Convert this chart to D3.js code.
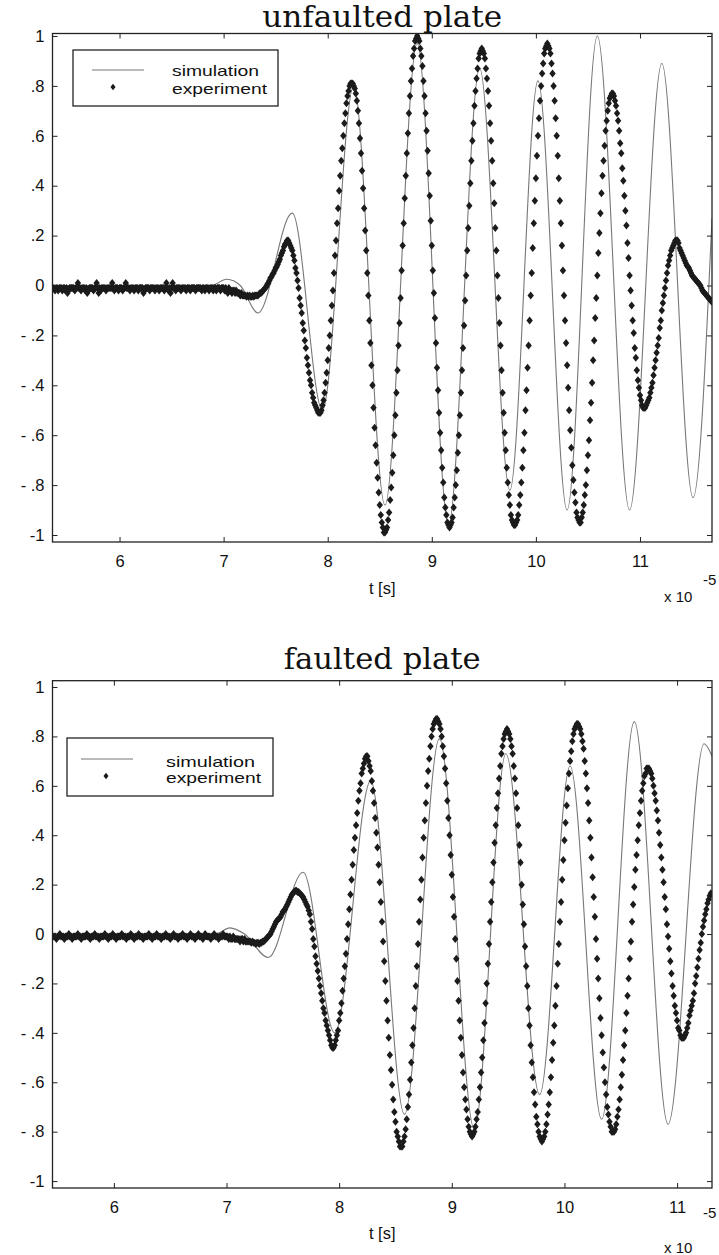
<!DOCTYPE html>
<html>
<head>
<meta charset="utf-8">
<script src="https://cdn.jsdelivr.net/npm/d3@7"></script>
<style>
  body { margin: 0; background: #fff; }
  svg text { fill: #111; }
</style>
</head>
<body>
<div id="chart"></div>
<script>
// ---- data ----
const titles = ["unfaulted plate", "faulted plate"]
const seriesNames = ["simulation", "experiment"]
const xTicks = [6, 7, 8, 9, 10, 11]
const yTicks = [1, .8, .6, .4, .2, 0, -.2, -.4, -.6, -.8, -1]
const yTickLabels = ["1", ".8", ".6", ".4", ".2", "0", "- .2", "- .4", "- .6", "- .8", "-1"]
const xLabel = "t [s]"

// simulation: turning points of the thin grey curve (t in 1e-5 s)
const topSimT = [5.356, 6.88, 7.03, 7.16, 7.33, 7.66, 7.95, 8.25, 8.55, 8.86, 9.16, 9.46, 9.75, 10.02, 10.30, 10.59, 10.90, 11.21, 11.51, 11.692]
const topSimY = [0, 0, .025, 0, -.11, .29, -.50, .80, -.88, .97, -.96, .87, -.82, .82, -.90, 1.0, -.90, .89, -.85, .27]

const botSimT = [5.455, 6.90, 7.03, 7.16, 7.37, 7.68, 7.96, 8.28, 8.58, 8.89, 9.20, 9.48, 9.78, 10.05, 10.33, 10.62, 10.92, 11.24, 11.31]
const botSimY = [0, 0, .025, 0, -.095, .25, -.40, .62, -.73, .79, -.79, .73, -.65, .68, -.75, .86, -.77, .77, .72]

// experiment: sampled every 0.01e-5 s
const topExpStart = 5.36, topExpStep = 0.01
const topExpY = [
  // 5.36 - 6.99
  -.01,-.01,-.02,-.01,-.01,-.02,-.01,-.01,-.01,-.02,
  -.01,-.01,-.02,-.01,-.03,-.02,-.01,-.01,-.01,-.01,
  -.01,-.02,-.01,-.01,.01,-.01,-.01,-.02,-.01,-.01,
  -.01,-.02,-.01,-.03,-.02,-.01,-.01,-.01,-.01,-.02,
  -.01,-.01,.01,-.01,-.03,-.01,-.02,-.01,-.01,-.01,
  -.01,-.02,-.01,-.01,-.01,-.01,-.01,.01,-.01,-.02,
  -.01,-.01,-.01,-.02,-.01,-.01,-.01,-.02,-.01,-.01,
  .01,-.01,-.01,-.01,-.02,-.01,-.01,-.01,-.02,-.01,
  -.01,-.01,-.02,-.01,-.01,-.01,-.01,-.03,-.02,-.01,
  -.01,-.01,-.01,-.02,-.01,-.01,-.01,-.01,-.02,-.01,
  -.01,-.01,-.02,-.01,-.01,-.01,-.01,-.02,-.01,.01,
  -.01,-.02,-.01,-.03,-.01,.01,-.01,-.01,-.02,-.01,
  -.01,-.01,-.01,-.02,-.01,-.01,-.01,-.01,-.02,-.01,
  -.01,-.01,-.02,-.01,-.01,-.01,-.01,-.02,-.01,-.01,
  -.01,-.01,-.01,-.02,-.01,-.01,-.02,-.01,-.01,-.01,
  -.02,-.01,-.01,-.01,-.02,-.01,-.01,-.02,-.01,-.01,
  -.01,-.02,-.01,-.01,
  // 7.00 - 7.30
  -.01,-.02,-.01,-.02,-.03,-.01,-.02,-.02,-.03,-.02,
  -.02,-.03,-.02,-.03,-.03,-.03,-.04,-.03,-.04,-.04,
  -.04,-.04,-.045,-.04,-.045,-.04,-.045,-.045,-.04,-.045,
  -.04,
  // 7.31 - 7.61
  -.04,-.04,-.04,-.035,-.03,-.03,-.025,-.02,-.015,-.01,
  -.005,.005,.01,.02,.03,.035,.045,.05,.06,.07,
  .075,.085,.095,.105,.12,.13,.14,.155,.165,.17,.18,
  // 7.62 - 7.92
  .18,.17,.16,.15,.14,.12,.10,.07,.05,.02,
  -.01,-.05,-.08,-.11,-.15,-.18,-.22,-.25,-.29,-.32,
  -.35,-.38,-.40,-.43,-.45,-.47,-.48,-.49,-.50,-.51,-.51,
  // 7.93 - 8.23
  -.51,-.50,-.48,-.46,-.43,-.39,-.35,-.30,-.25,-.20,
  -.14,-.08,-.02,.05,.12,.18,.25,.31,.38,.44,
  .50,.55,.60,.65,.69,.73,.76,.78,.80,.81,.81,
  // 8.24 - 8.55
  .81,.80,.79,.77,.74,.70,.65,.59,.53,.46,.39,
  .31,.22,.14,.05,-.04,-.14,-.23,-.32,-.40,-.49,
  -.57,-.64,-.71,-.77,-.83,-.88,-.92,-.95,-.97,-.99,-.99,
  // 8.56 - 8.86
  -.98,-.97,-.94,-.91,-.86,-.81,-.75,-.68,-.60,-.52,
  -.43,-.34,-.24,-.15,-.05,.06,.16,.25,.35,.44,
  .53,.61,.69,.76,.82,.87,.92,.95,.98,.99,1.0,
  // 8.87 - 9.17
  .99,.98,.95,.92,.88,.82,.76,.69,.62,.54,
  .45,.36,.26,.16,.06,-.03,-.13,-.23,-.33,-.42,
  -.51,-.59,-.66,-.73,-.79,-.85,-.89,-.92,-.95,-.96,-.97,
  // 9.18 - 9.48
  -.96,-.95,-.93,-.89,-.85,-.80,-.74,-.67,-.60,-.52,
  -.43,-.34,-.25,-.16,-.06,.04,.14,.23,.32,.41,
  .50,.58,.65,.72,.78,.83,.87,.91,.93,.94,.95,
  // 9.49 - 9.79
  .94,.93,.91,.87,.83,.78,.72,.65,.58,.50,
  .41,.33,.23,.14,.04,-.05,-.15,-.24,-.34,-.43,
  -.51,-.59,-.66,-.73,-.79,-.84,-.88,-.92,-.94,-.95,-.96,
  // 9.80 - 10.11
  -.96,-.95,-.94,-.92,-.88,-.84,-.79,-.73,-.66,-.59,-.50,
  -.42,-.33,-.24,-.14,-.04,.05,.15,.25,.34,.43,
  .52,.60,.67,.74,.80,.85,.89,.93,.95,.96,.97,
  // 10.12 - 10.42
  .96,.95,.93,.89,.85,.80,.74,.67,.60,.52,
  .43,.34,.25,.16,.06,-.04,-.14,-.23,-.32,-.41,
  -.50,-.58,-.65,-.72,-.78,-.83,-.87,-.91,-.93,-.94,-.95,
  // 10.43 - 10.73
  -.95,-.93,-.91,-.88,-.84,-.80,-.74,-.68,-.62,-.54,
  -.47,-.39,-.30,-.22,-.13,-.05,.04,.13,.21,.29,
  .37,.44,.50,.56,.62,.66,.70,.73,.75,.76,.77,
  // 10.74 - 11.04
  .77,.76,.74,.72,.69,.66,.62,.57,.53,.47,
  .42,.36,.30,.24,.17,.11,.04,-.02,-.08,-.14,
  -.19,-.25,-.29,-.34,-.38,-.41,-.44,-.46,-.48,-.49,-.49,
  // 11.05 - 11.35
  -.49,-.48,-.47,-.46,-.45,-.43,-.41,-.39,-.36,-.33,
  -.30,-.27,-.24,-.21,-.17,-.14,-.10,-.07,-.04,-.01,
  .02,.05,.08,.10,.12,.14,.15,.16,.17,.18,.18,
  // 11.36 - 11.69
  .18,.17,.15,.14,.13,.12,.11,.10,.09,.08,
  .075,.07,.06,.05,.04,.035,.03,.025,.02,.015,
  .01,.005,0,-.01,-.02,-.025,-.03,-.035,-.04,-.045,
  -.05,-.055,-.06,-.065
]

const botExpStart = 5.46, botExpStep = 0.01
const botExpY = [
  // 5.46 - 6.99
  -.01,-.01,-.01,-.02,-.01,-.01,0,-.01,-.01,-.01,
  -.02,-.01,-.01,-.01,0,-.01,-.01,-.02,-.01,-.01,
  -.01,-.01,0,-.01,-.01,-.02,-.01,-.01,-.01,-.01,
  0,-.01,-.01,-.02,-.01,-.01,-.01,0,-.01,-.01,
  -.01,-.02,-.01,-.01,-.01,-.01,0,-.01,-.01,-.02,
  -.01,-.01,-.01,0,-.01,-.01,-.02,-.01,-.01,-.01,
  -.01,0,-.01,-.01,-.01,-.02,-.01,-.01,-.01,0,
  -.01,-.01,-.02,-.01,-.01,-.01,0,-.01,-.01,-.01,
  -.02,-.01,-.01,-.01,-.01,0,-.01,-.01,-.02,-.01,
  -.01,-.01,0,-.01,-.01,-.01,-.02,-.01,-.01,-.01,
  0,-.01,-.01,-.01,-.02,-.01,-.01,0,-.01,-.01,
  -.01,-.02,-.01,-.01,-.01,0,-.01,-.01,-.01,-.02,
  -.01,-.01,0,-.01,-.01,-.01,-.02,-.01,-.01,0,
  -.01,-.01,-.01,-.02,-.01,0,-.01,-.01,-.01,-.01,
  -.02,-.01,-.01,0,-.01,-.01,-.01,-.02,-.01,-.01,
  -.01,0,-.01,-.01,
  // 7.00 - 7.30
  -.01,-.01,-.02,-.01,-.02,-.02,-.01,-.02,-.02,-.02,
  -.02,-.02,-.03,-.02,-.02,-.03,-.02,-.03,-.03,-.03,
  -.03,-.03,-.035,-.03,-.035,-.035,-.04,-.035,-.035,-.04,
  -.035,
  // 7.31 - 7.61
  -.035,-.03,-.03,-.025,-.02,-.015,-.01,-.005,0,.01,
  .02,.03,.04,.05,.055,.06,.065,.07,.08,.09,
  .095,.10,.11,.12,.13,.14,.15,.16,.165,.17,.175,
  // 7.62 - 7.94
  .175,.17,.17,.165,.16,.155,.15,.14,.13,.12,
  .11,.095,.08,.05,.02,-.02,-.05,-.09,-.12,-.15,
  -.18,-.21,-.24,-.27,-.30,-.32,-.35,-.37,-.39,-.41,
  -.43,-.45,-.46,
  // 7.95 - 8.25
  -.46,-.45,-.43,-.41,-.39,-.35,-.32,-.28,-.23,-.18,
  -.13,-.08,-.02,.04,.10,.16,.22,.28,.34,.39,
  .44,.49,.54,.58,.61,.65,.67,.69,.71,.72,.72,
  // 8.26 - 8.55
  .70,.68,.66,.62,.58,.53,.47,.41,.35,.28,
  .21,.13,.05,-.03,-.11,-.19,-.27,-.35,-.42,-.49,
  -.55,-.61,-.67,-.72,-.76,-.80,-.82,-.84,-.86,-.86,
  // 8.56 - 8.86
  -.86,-.84,-.82,-.79,-.75,-.70,-.65,-.59,-.52,-.45,
  -.38,-.30,-.21,-.13,-.04,.05,.14,.22,.31,.39,
  .46,.53,.60,.66,.71,.76,.80,.83,.85,.86,.87,
  // 8.87 - 9.18
  .87,.86,.85,.83,.80,.76,.72,.67,.61,.54,.47,
  .40,.32,.24,.15,.07,-.02,-.10,-.19,-.27,-.35,
  -.42,-.49,-.56,-.62,-.67,-.71,-.75,-.78,-.80,-.81,-.82,
  // 9.19 - 9.49
  -.81,-.80,-.78,-.75,-.72,-.67,-.62,-.56,-.50,-.43,
  -.36,-.28,-.20,-.12,-.04,.05,.13,.21,.29,.37,
  .44,.51,.57,.63,.68,.73,.76,.79,.81,.82,.83,
  // 9.50 - 9.80
  .82,.81,.79,.76,.73,.68,.63,.57,.51,.44,
  .36,.29,.20,.12,.04,-.05,-.13,-.21,-.30,-.37,
  -.45,-.52,-.58,-.64,-.69,-.74,-.77,-.80,-.82,-.83,-.84,
  // 9.81 - 10.11
  -.83,-.82,-.80,-.77,-.73,-.69,-.64,-.58,-.51,-.44,
  -.37,-.29,-.21,-.12,-.04,.05,.13,.22,.30,.38,
  .45,.52,.59,.65,.70,.74,.78,.81,.83,.84,.85,
  // 10.12 - 10.43
  .85,.84,.83,.81,.78,.75,.70,.65,.59,.53,.46,
  .39,.31,.23,.15,.07,-.02,-.10,-.18,-.26,-.34,
  -.41,-.48,-.54,-.60,-.65,-.70,-.73,-.76,-.78,-.80,-.80,
  // 10.44 - 10.74
  -.80,-.79,-.77,-.74,-.71,-.67,-.62,-.57,-.51,-.45,
  -.39,-.32,-.25,-.18,-.10,-.03,.05,.12,.19,.26,
  .32,.38,.44,.49,.54,.58,.61,.64,.65,.67,.67,
  // 10.75 - 11.05
  .67,.66,.65,.63,.60,.57,.54,.50,.46,.41,
  .36,.31,.26,.21,.15,.10,.04,-.01,-.06,-.11,
  -.16,-.21,-.25,-.29,-.32,-.35,-.38,-.39,-.41,-.42,-.42,
  // 11.06 - 11.30
  -.42,-.41,-.40,-.38,-.36,-.33,-.31,-.29,-.27,-.24,
  -.20,-.17,-.135,-.10,-.065,-.035,0,.03,.055,.08,
  .10,.125,.14,.155,.165
]

// ---- layout ----
const W = 719, H = 1255
const simColor = "#777",
      expColor = "#1b1b1b",
      frameColor = "#222"
const sansFont = "'Liberation Sans', Arial, sans-serif",
      serifFont = "'DejaVu Serif', 'Liberation Serif', serif"

const panels = [
  {
    title: titles[0], titleY: 27, titleLen: 240,
    simT: topSimT, simY: topSimY, expStart: topExpStart, expStep: topExpStep, expY: topExpY,
    xDomain: [5.356, 11.692], yDomain: [-1.028, 1.01],
    left: 52.5, right: 712, top: 33.5, bottom: 542,
    xLabelY: 594, expoX: 664, expoY: 602, supY: 585,
    legend: {x: 73, y: 50, w: 205, h: 56, lineY: 70, markY: 87, textY: [76, 94], textX: 172, textLen: [87, 95], lineX: [92, 144], markX: 113}
  },
  {
    title: titles[1], titleY: 669, titleLen: 197,
    simT: botSimT, simY: botSimY, expStart: botExpStart, expStep: botExpStep, expY: botExpY,
    xDomain: [5.455, 11.31], yDomain: [-1.028, 1.0255],
    left: 52.5, right: 712, top: 680.7, bottom: 1188,
    xLabelY: 1239, expoX: 664, expoY: 1253, supY: 1218,
    legend: {x: 67, y: 738, w: 206, h: 58, lineY: 759, markY: 776, textY: [767, 783], textX: 166, textLen: [89, 95], lineX: [81, 133], markX: 106}
  }
]

const svg = d3.select("#chart").append("svg")
  .attr("width", W)
  .attr("height", H)
  .style("display", "block")

const markerPath = "M0,-4L3.2,0L0,4L-3.2,0Z"

panels.forEach((p, pi) => {
  const x = d3.scaleLinear().domain(p.xDomain).range([p.left, p.right]),
        y = d3.scaleLinear().domain(p.yDomain).range([p.bottom, p.top])

  const g = svg.append("g")

  // title
  g.append("text")
    .attr("x", (p.left + p.right) / 2)
    .attr("y", p.titleY)
    .attr("text-anchor", "middle")
    .attr("textLength", p.titleLen)
    .attr("lengthAdjust", "spacingAndGlyphs")
    .style("font-family", serifFont)
    .style("font-size", "29px")
    .text(p.title)

  // clip to the frame
  g.append("clipPath")
    .attr("id", "clip" + pi)
    .append("rect")
    .attr("x", p.left)
    .attr("y", p.top)
    .attr("width", p.right - p.left)
    .attr("height", p.bottom - p.top)

  const plot = g.append("g").attr("clip-path", `url(#clip${pi})`)

  // simulation curve
  const simPts = p.simT.map((t, i) => [t, p.simY[i]])
  plot.append("path")
    .datum(simPts)
    .attr("fill", "none")
    .attr("stroke", simColor)
    .attr("stroke-width", 1.1)
    .attr("d", d3.line()
      .x(d => x(d[0]))
      .y(d => y(d[1]))
      .curve(d3.curveMonotoneX))

  // experiment markers
  const expPts = p.expY.map((v, i) => [p.expStart + i * p.expStep, v])
  plot.append("g")
    .selectAll("path")
    .data(expPts)
    .join("path")
    .attr("d", markerPath)
    .attr("fill", expColor)
    .attr("transform", d => `translate(${x(d[0])},${y(d[1])})`)

  // axes (inward ticks on all four sides)
  const styleAxis = sel => {
    sel.select(".domain").remove()
    sel.selectAll("line").attr("stroke", frameColor)
    sel.selectAll("text")
      .style("font-family", sansFont)
      .style("font-size", "16.5px")
      .attr("fill", "#111")
  }

  g.append("g")
    .attr("transform", `translate(0,${p.bottom})`)
    .call(d3.axisBottom(x).tickValues(xTicks).tickSizeInner(-5).tickSizeOuter(0).tickPadding(13)
      .tickFormat(d3.format("d")))
    .call(styleAxis)

  g.append("g")
    .attr("transform", `translate(0,${p.top})`)
    .call(d3.axisTop(x).tickValues(xTicks).tickSizeInner(-5).tickSizeOuter(0).tickFormat(""))
    .call(styleAxis)

  g.append("g")
    .attr("transform", `translate(${p.left},0)`)
    .call(d3.axisLeft(y).tickValues(yTicks).tickSizeInner(-5).tickSizeOuter(0).tickPadding(8)
      .tickFormat((d, i) => yTickLabels[i]))
    .call(styleAxis)

  g.append("g")
    .attr("transform", `translate(${p.right},0)`)
    .call(d3.axisRight(y).tickValues(yTicks).tickSizeInner(-5).tickSizeOuter(0).tickFormat(""))
    .call(styleAxis)

  // frame
  g.append("rect")
    .attr("x", p.left)
    .attr("y", p.top)
    .attr("width", p.right - p.left)
    .attr("height", p.bottom - p.top)
    .attr("fill", "none")
    .attr("stroke", frameColor)
    .attr("stroke-width", 1.3)

  // x label and exponent
  g.append("text")
    .attr("x", (p.left + p.right) / 2)
    .attr("y", p.xLabelY)
    .attr("text-anchor", "middle")
    .style("font-family", sansFont)
    .style("font-size", "16.5px")
    .text(xLabel)

  g.append("text")
    .attr("x", p.expoX)
    .attr("y", p.expoY)
    .style("font-family", sansFont)
    .style("font-size", "15px")
    .text("x 10")

  g.append("text")
    .attr("x", p.expoX + 39)
    .attr("y", p.supY)
    .style("font-family", sansFont)
    .style("font-size", "15px")
    .text("-5")

  // legend
  const L = p.legend
  const lg = g.append("g")
  lg.append("rect")
    .attr("x", L.x)
    .attr("y", L.y)
    .attr("width", L.w)
    .attr("height", L.h)
    .attr("fill", "#fff")
    .attr("stroke", "#111")
    .attr("stroke-width", 1.2)
  lg.append("line")
    .attr("x1", L.lineX[0])
    .attr("x2", L.lineX[1])
    .attr("y1", L.lineY)
    .attr("y2", L.lineY)
    .attr("stroke", simColor)
    .attr("stroke-width", 1.1)
  lg.append("path")
    .attr("d", markerPath)
    .attr("fill", expColor)
    .attr("transform", `translate(${L.markX},${L.markY}) scale(0.8)`)
  lg.selectAll("text.leg")
    .data(seriesNames)
    .join("text")
    .attr("class", "leg")
    .attr("x", L.textX)
    .attr("y", (d, i) => L.textY[i])
    .attr("textLength", (d, i) => L.textLen[i])
    .attr("lengthAdjust", "spacingAndGlyphs")
    .style("font-family", sansFont)
    .style("font-size", "15px")
    .text(d => d)
})
</script>
</body>
</html>
